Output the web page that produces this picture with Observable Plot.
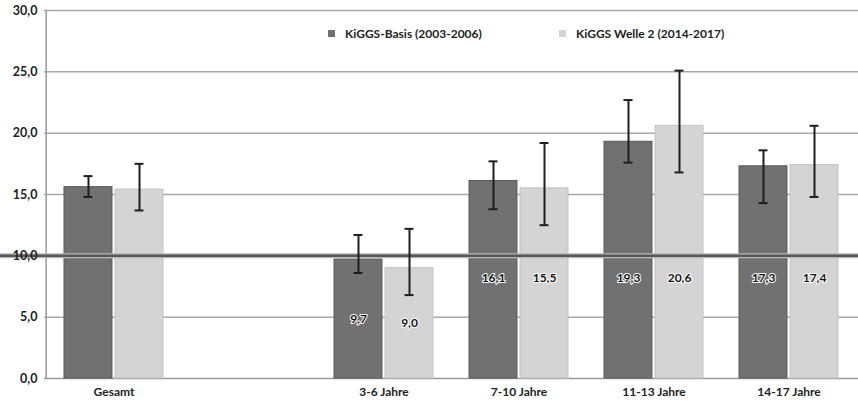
<!DOCTYPE html>
<html><head><meta charset="utf-8">
<script src="https://cdn.jsdelivr.net/npm/d3@7"></script>
<script src="https://cdn.jsdelivr.net/npm/@observablehq/plot@0.6"></script>
<style>
body{margin:0;background:#fff;}
#wrap{position:relative;width:858px;height:403px;font-family:Lato,"Open Sans",sans-serif;}
.leg{position:absolute;top:26px;height:14px;font-weight:bold;font-size:12px;color:#222;display:flex;align-items:center;white-space:nowrap;}
.sw{width:7px;height:7px;margin-right:10px;}
</style></head><body><div id="wrap"></div>
<script>
// ---- data ----
const categories = ["Gesamt", "", "3-6 Jahre", "7-10 Jahre", "11-13 Jahre", "14-17 Jahre"];
const seriesNames = ["KiGGS-Basis (2003-2006)", "KiGGS Welle 2 (2014-2017)"];
const groups = ["Gesamt", "3-6 Jahre", "7-10 Jahre", "11-13 Jahre", "14-17 Jahre"];
const basisValues = [15.6, 9.7, 16.1, 19.3, 17.3];
const basisLow = [14.8, 8.6, 13.8, 17.6, 14.3];
const basisHigh = [16.5, 11.7, 17.7, 22.7, 18.6];
const welle2Values = [15.4, 9.0, 15.5, 20.6, 17.4];
const welle2Low = [13.7, 6.8, 12.5, 16.8, 14.8];
const welle2High = [17.5, 12.2, 19.2, 25.1, 20.6];
const labelled = [false, true, true, true, true];
const yTicks = [0, 5, 10, 15, 20, 25, 30];
const gridTicks = [5, 15, 20, 25, 30];
const referenceLine = [10];
const colors = ["#717171", "#d4d4d4"];
const strokes = ["#5a5a5a", "#c4c4c4"];

// ---- layout ----
const W = 858, H = 403, mL = 44, mR = 0, mT = 10, mB = 25;
const pIn = 0.27, pOut = 0.135;
const step = (W - mL - mR) / (categories.length - pIn + 2 * pOut);
const bw = step * (1 - pIn);
const half = bw / 2;
const gap = 1.5;
const off = (half + gap) / 2;

const fmt = d => d.toFixed(1).replace(".", ",");

const rows = [];
groups.forEach((g, i) => {
  rows.push({cat: g, s: 0, v: basisValues[i], lo: basisLow[i], hi: basisHigh[i], lab: labelled[i]});
  rows.push({cat: g, s: 1, v: welle2Values[i], lo: welle2Low[i], hi: welle2High[i], lab: labelled[i]});
});
const A = rows.filter(d => d.s === 0), B = rows.filter(d => d.s === 1);
const labY = d => d.v > 10 ? 8.2 : d.v / 2;

const marks = [
  Plot.ruleY(gridTicks, {stroke: "#a9a9a9", strokeWidth: 1.5}),
  Plot.ruleY([0], {stroke: "#9a9a9a", strokeWidth: 1.5}),
  Plot.ruleX([categories[0]], {y1: 0, y2: 30, dx: -step / 2, stroke: "#9a9a9a", strokeWidth: 1.5}),
  Plot.barY(A, {x: "cat", y: "v", fill: colors[0], stroke: strokes[0], strokeWidth: 1, insetRight: half + gap}),
  Plot.barY(B, {x: "cat", y: "v", fill: colors[1], stroke: strokes[1], strokeWidth: 1, insetLeft: half + gap}),
  Plot.ruleY(referenceLine, {stroke: "#b8b8b8", strokeWidth: 5, insetLeft: -mL}),
  Plot.ruleY(referenceLine, {stroke: "#575757", strokeWidth: 2.5, insetLeft: -mL}),
];
[[A, -off], [B, off]].forEach(([data, dx]) => {
  marks.push(Plot.ruleX(data, {x: "cat", y1: "lo", y2: "hi", dx, stroke: "#1e1e1e", strokeWidth: 2}));
  marks.push(Plot.tickY(data, {x: "cat", y: "lo", dx, stroke: "#1e1e1e", strokeWidth: 2, insetLeft: half - 4.5, insetRight: half - 4.5}));
  marks.push(Plot.tickY(data, {x: "cat", y: "hi", dx, stroke: "#1e1e1e", strokeWidth: 2, insetLeft: half - 4.5, insetRight: half - 4.5}));
  marks.push(Plot.text(data.filter(d => d.lab), {x: "cat", y: labY, dx, text: d => fmt(d.v), fill: "#111", stroke: "white", strokeWidth: 2, paintOrder: "stroke", fontWeight: "bold", fontSize: 12}));
});
marks.push(Plot.axisY({ticks: yTicks, tickFormat: fmt, tickSize: 0, tickPadding: 7, fontWeight: "bold", fontSize: 12.5, fill: "#222", label: null}));
marks.push(Plot.axisX({tickSize: 0, tickPadding: 9, fontWeight: "bold", fontSize: 12, fill: "#222", label: null}));

const chart = Plot.plot({
  width: W, height: H,
  marginLeft: mL, marginRight: mR, marginTop: mT, marginBottom: mB,
  style: {fontFamily: "Lato, 'Open Sans', sans-serif", background: "white", overflow: "visible"},
  x: {type: "band", domain: categories, paddingInner: pIn, paddingOuter: pOut, axis: null},
  y: {domain: [0, 30], axis: null},
  marks
});
const wrap = document.getElementById("wrap");
wrap.appendChild(chart);

const legPos = [328, 559];
seriesNames.forEach((n, i) => {
  const d = document.createElement("div");
  d.className = "leg";
  d.style.left = legPos[i] + "px";
  d.innerHTML = `<span class="sw" style="background:${colors[i]}"></span><span>${n}</span>`;
  wrap.appendChild(d);
});
</script></body></html>
